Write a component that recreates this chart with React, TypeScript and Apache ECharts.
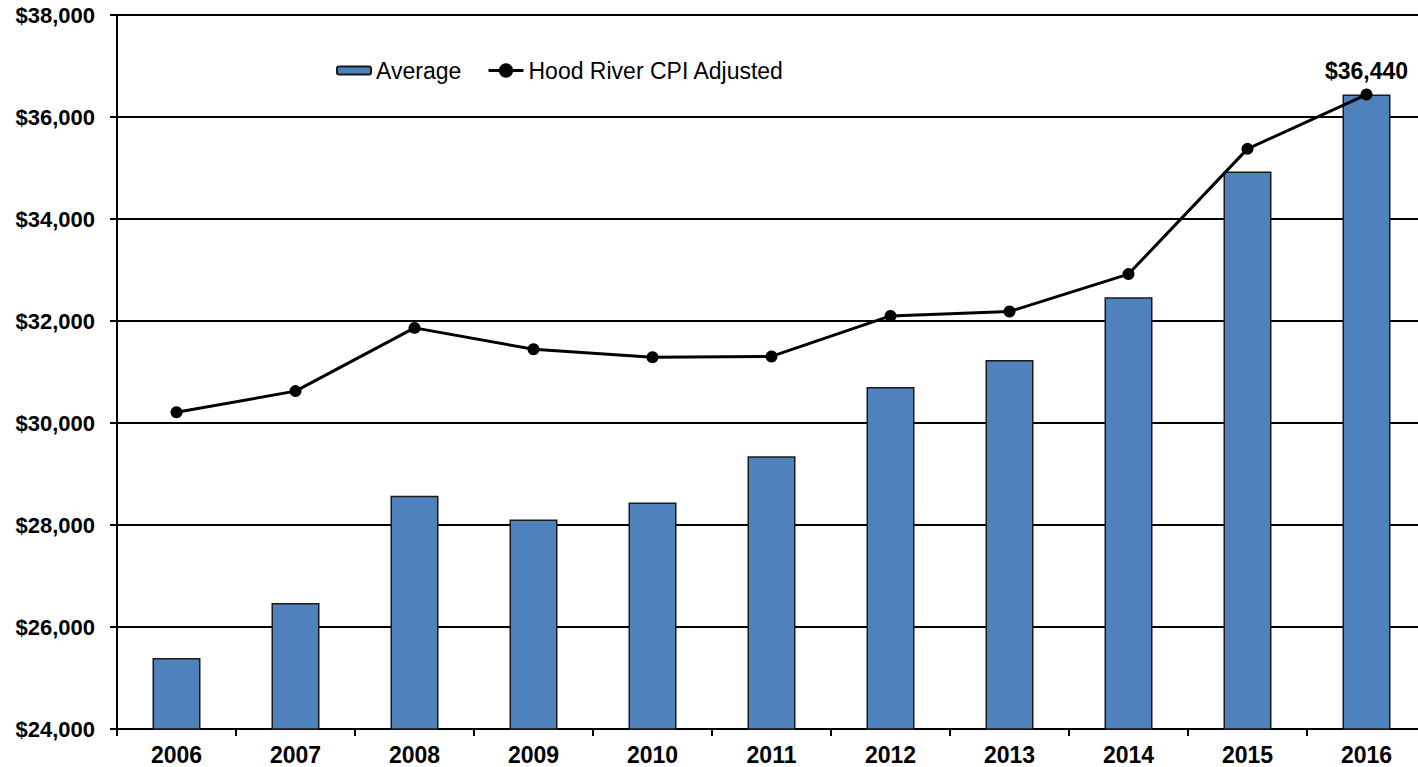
import React, { useEffect, useRef } from "react";
import * as echarts from "echarts";

const years = ["2006", "2007", "2008", "2009", "2010", "2011", "2012", "2013", "2014", "2015", "2016"];
const averageWage = [25390, 26470, 28575, 28110, 28440, 29350, 30705, 31235, 32465, 34930, 36440];
const cpiAdjusted = [30210, 30625, 31865, 31445, 31290, 31305, 32100, 32185, 32920, 35375, 36440];
const yMin = 24000;
const yMax = 38000;
const yStep = 2000;

const FONT = "'Liberation Sans', Arial, sans-serif";

const fmt = (v: number) => "$" + v.toLocaleString("en-US");

export default function App() {
  const ref = useRef<HTMLDivElement>(null);
  useEffect(() => {
    if (!ref.current) return;
    const chart = echarts.init(ref.current, null, { renderer: "svg" });
    const lastIdx = cpiAdjusted.length - 1;
    chart.setOption({
      animation: false,
      backgroundColor: "#ffffff",
      textStyle: { fontFamily: FONT },
      grid: { left: 117, right: 0, top: 15, bottom: 38, containLabel: false },
      legend: [
        {
          data: ["Average"],
          left: 336,
          top: 59,
          padding: 0,
          itemWidth: 34,
          itemHeight: 8,
          textStyle: { fontSize: 23, color: "#000", fontFamily: FONT },
        },
        {
          data: ["Hood River CPI Adjusted"],
          left: 487,
          top: 59,
          padding: 0,
          itemWidth: 35,
          itemHeight: 18,
          lineStyle: { width: 3, color: "#000" },
          textStyle: { fontSize: 23, color: "#000", fontFamily: FONT },
        },
      ],
      xAxis: {
        type: "category",
        data: years,
        axisLine: { lineStyle: { color: "#000", width: 2 } },
        axisTick: { show: true, length: 7, lineStyle: { color: "#000", width: 2 } },
        axisLabel: { fontSize: 23, fontWeight: "bold", color: "#000", margin: 14, fontFamily: FONT },
      },
      yAxis: {
        type: "value",
        min: yMin,
        max: yMax,
        interval: yStep,
        axisLine: { show: true, lineStyle: { color: "#000", width: 2 } },
        axisTick: { show: true, length: 7, lineStyle: { color: "#000", width: 2 } },
        axisLabel: {
          fontSize: 22,
          fontWeight: "bold",
          color: "#000",
          margin: 22,
          fontFamily: FONT,
          formatter: (v: number) => fmt(v),
        },
        splitLine: { show: true, lineStyle: { color: "#000", width: 2 } },
      },
      series: [
        {
          name: "Average",
          type: "bar",
          data: averageWage,
          barWidth: 48,
          itemStyle: { color: "#4F81BD", borderColor: "#1a1a1a", borderWidth: 1.5 },
          z: 2,
        },
        {
          name: "Hood River CPI Adjusted",
          type: "line",
          data: cpiAdjusted.map((v, i) =>
            i === lastIdx
              ? {
                  value: v,
                  label: {
                    show: true,
                    position: "top",
                    distance: 6,
                    formatter: (p: any) => fmt(p.value),
                    fontSize: 23,
                    fontWeight: "bold",
                    color: "#000",
                    fontFamily: FONT,
                  },
                }
              : v
          ),
          symbol: "circle",
          symbolSize: 12,
          itemStyle: { color: "#000" },
          lineStyle: { color: "#000", width: 3 },
          z: 3,
        },
      ],
    });
    return () => chart.dispose();
  }, []);
  return (
    <div
      style={{ position: "fixed", left: 0, top: 0, width: 1418, height: 767, overflow: "hidden", background: "#fff" }}
    >
      <div ref={ref} style={{ position: "absolute", left: 0, top: 0, width: 1426, height: 767 }} />
    </div>
  );
}
